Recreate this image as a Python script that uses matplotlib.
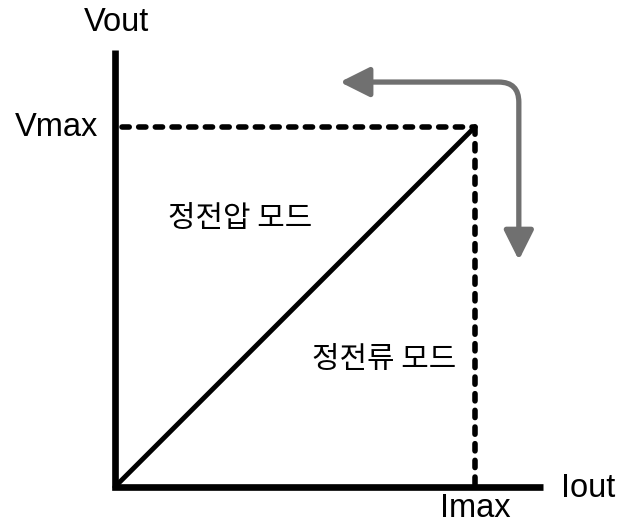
import matplotlib.pyplot as plt
from matplotlib.path import Path
from matplotlib.patches import FancyArrowPatch, ArrowStyle

# operating region (normalised: Imax = Vmax = 1)
i_max = 1.0
v_max = 1.0
i_line = [0.0, i_max]
v_line = [0.0, v_max]

x_axis_end = 1.19
y_axis_end = 1.215

# gray mode-change arrow
arrow_y = 1.125
arrow_x = 1.122
arrow_left = 0.625
arrow_bottom = 0.63
corner_r = 0.056

latin = ['Liberation Sans', 'DejaVu Sans']
korean = ['Noto Sans CJK KR', 'DejaVu Sans']

fig = plt.figure(figsize=(6.2, 5.24), dpi=100)
ax = fig.add_axes([0, 0, 1, 1])
ax.set_xlim(-0.319, 1.403)
ax.set_ylim(-0.103, 1.353)
ax.axis('off')

# axes
ax.plot([0, 0, x_axis_end], [y_axis_end, 0, 0], color='black', lw=4.8,
        solid_capstyle='butt', solid_joinstyle='miter')

# load line
ax.plot(i_line, v_line, color='black', lw=3.5, solid_capstyle='round')

# limits
ax.plot([0.02, i_max], [v_max, v_max], color='black', lw=4.0,
        linestyle=(0, (1.3, 1.7)), dash_capstyle='round')
ax.plot([i_max, i_max], [v_max, 0], color='black', lw=4.0,
        linestyle=(0, (1.3, 1.7)), dash_capstyle='round')

verts = [(arrow_left, arrow_y), (arrow_x - corner_r, arrow_y),
         (arrow_x, arrow_y), (arrow_x, arrow_y - corner_r),
         (arrow_x, arrow_bottom)]
codes = [Path.MOVETO, Path.LINETO, Path.CURVE3, Path.CURVE3, Path.LINETO]
arrow = FancyArrowPatch(path=Path(verts, codes),
                        arrowstyle=ArrowStyle('<|-|>', head_length=18, head_width=9),
                        mutation_scale=1, color='#707070', lw=3.8)
ax.add_patch(arrow)

# labels
ax.text(0.005, 1.29, 'Vout', fontsize=23.5, family=latin, ha='center', va='center')
ax.text(-0.045, v_max, 'Vmax', fontsize=23.5, family=latin, ha='right', va='center')
ax.text(i_max, -0.06, 'Imax', fontsize=23.5, family=latin, ha='center', va='center')
ax.text(1.24, -0.005, 'Iout', fontsize=23.5, family=latin, ha='left', va='center')
ax.text(0.347, 0.747, '정전압 모드', fontsize=21.5, family=korean, ha='center', va='center')
ax.text(0.747, 0.353, '정전류 모드', fontsize=21.5, family=korean, ha='center', va='center')

fig.savefig('out.png', dpi=100)
